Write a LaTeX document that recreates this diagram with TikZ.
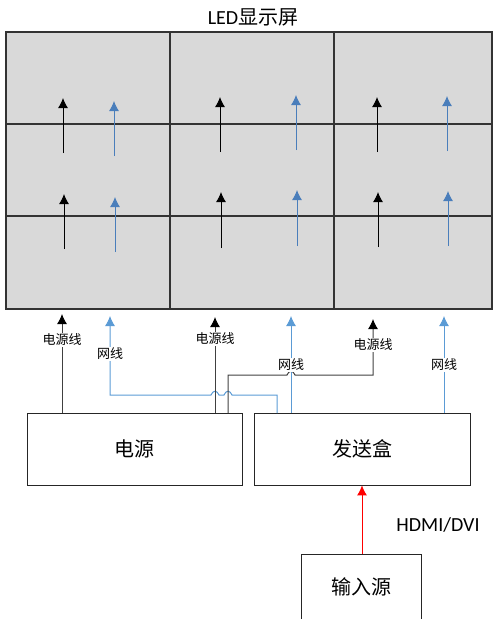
\documentclass[tikz,border=0pt]{standalone}
\usepackage{fontspec}
\setmainfont{Carlito}
\newfontfamily\cjk{Noto Sans CJK SC}
\usetikzlibrary{arrows.meta,calc,positioning}
\definecolor{panelgray}{HTML}{D9D9D9}
\definecolor{gridline}{HTML}{333333}
\definecolor{netblue}{HTML}{5B9BD5}
\definecolor{panelblue}{HTML}{4A7EBB}
\tikzset{
  flow/.style={-{Latex[length=10pt,width=10pt]}},
  powerflow/.style={-{Latex[length=10pt,width=10pt,black]},black!75},
  unit/.style={draw=black!85,thick,minimum width=#1,minimum height=72pt,inner sep=0pt,font=\cjk\fontsize{20}{20}\selectfont},
  tag/.style={fill=white,inner sep=1pt,font=\cjk\fontsize{13}{13}\selectfont},
}
\begin{document}
\begin{tikzpicture}[x=1pt,y=-1pt]
  \clip (0,0) rectangle (493,619);
  % screen
  \draw [gridline,line width=1.8pt,fill=panelgray]
    (6,32) rectangle (492,309)
  ;
  \foreach \gridx in {170,334} {
    \draw [gridline,line width=1.5pt] (\gridx,32) -- (\gridx,309);
  }
  \foreach \gridy in {124,216} {
    \draw [gridline,line width=1.5pt] (6,\gridy) -- (492,\gridy);
  }
  \node [font=\fontsize{20}{20}\selectfont] (title) at (253,17) {LED{\cjk 显示屏}};
  % panel arrows
  \foreach \px/\pa/\pb in {63/153/98,220/152/97,377/152/97,64/249/194,221/248/192,378/247/192} {
    \draw [flow,black,line width=1pt] (\px,\pa) -- (\px,\pb);
  }
  \foreach \px/\pa/\pb in {114/156/101,296/150/95,447/151/96,115/252/197,297/246/190,448/246/191} {
    \draw [flow,panelblue,line width=1pt] (\px,\pa) -- (\px,\pb);
  }
  % boxes
  \node [unit=215pt] (power) at (134.5,449) {电源};
  \node [unit=216pt] (sender) at (362,449) {发送盒};
  \node [unit=120pt] (source) at (361,590) {};
  \node [font=\cjk\fontsize{20}{20}\selectfont] (sourcetext) at (361,587) {输入源};
  % free ends under the screen
  \coordinate (powerin1) at (62,314);
  \coordinate (netin1) at (110,316);
  \coordinate (powerin2) at (215,317);
  \coordinate (netin2) at (291,316);
  \coordinate (powerin3) at (373,319);
  \coordinate (netin3) at (444,316);
  % ends on the boxes
  \coordinate (netout1) at (277,413);
  \coordinate (powerout3) at (228,413);
  % network lines
  \draw [flow,netblue,line width=1pt]
    (sender.north -| netin2)
    -- (netin2)
  ;
  \draw [flow,netblue,line width=1pt]
    (netout1)
    -- ++(0,-18)
    -- ++(-45,0)
    .. controls +(-2,-5) and +(2,-5) .. ++(-8,0)
    -- ++(-5,0)
    .. controls +(-2,-5) and +(2,-5) .. ++(-8,0)
    -- (netin1 |- 0,395)
    -- (netin1)
  ;
  \draw [flow,netblue,line width=1pt]
    (sender.north -| netin3)
    -- (netin3)
  ;
  % power lines
  \draw [powerflow,line width=1pt]
    (power.north -| powerin1)
    -- (powerin1)
  ;
  \draw [powerflow,line width=1pt]
    (power.north -| powerin2)
    -- (powerin2)
  ;
  \draw [powerflow,line width=1pt]
    (powerout3)
    -- ++(0,-38)
    -- ++(59,0)
    .. controls +(2,-5) and +(-2,-5) .. ++(8,0)
    -- (powerin3 |- 0,375)
    -- (powerin3)
  ;
  % input
  \draw [flow,red,line width=1pt]
    (source.north -| sender.south)
    -- (sender.south)
  ;
  \node [font=\fontsize{20}{20}\selectfont] (hdmi) at (438,525) {HDMI/DVI};
  % labels
  \node [tag] (powertag1) at (62,340) {电源线};
  \node [tag] (nettag1) at (110,354) {网线};
  \node [tag] (powertag2) at (215,339) {电源线};
  \node [tag] (nettag2) at (291,365) {网线};
  \node [tag] (powertag3) at (373,345) {电源线};
  \node [tag] (nettag3) at (444,365) {网线};
\end{tikzpicture}
\end{document}
